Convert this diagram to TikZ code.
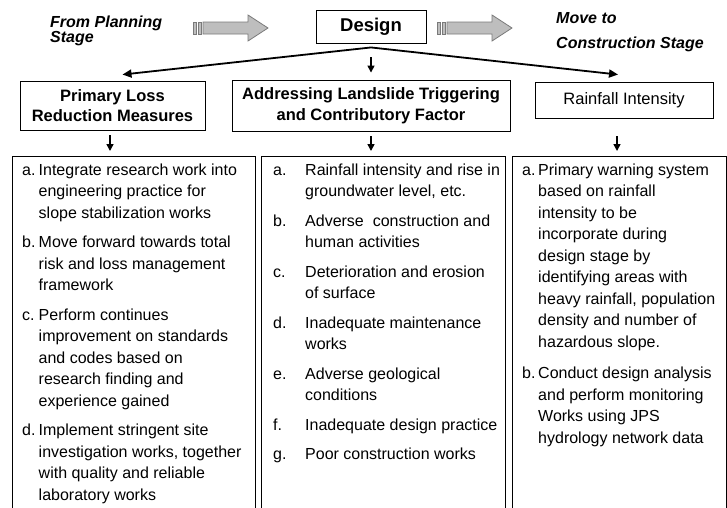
\documentclass[tikz,border=0pt]{standalone}
\usepackage{fontspec}
\setmainfont{Liberation Sans}
\usetikzlibrary{arrows.meta}
\definecolor{blockgray}{HTML}{BEBEBE}
\definecolor{blockedge}{HTML}{7A7A7A}
\newcommand\lbl[2]{\makebox[#1][l]{#2}}
\tikzset{
  box/.style={draw=black, line width=0.9pt, inner sep=0pt, align=center},
  headbox/.style={box, font=\fontsize{16.5}{20.5}\selectfont\bfseries},
  listbox/.style={draw=black, line width=0.9pt, anchor=north west, inner sep=0pt},
  bodytext/.style={anchor=north west, inner sep=0pt, font=\fontsize{16}{21.5}\selectfont},
  toplabel/.style={anchor=base west, inner sep=0pt, font=\fontsize{16}{16}\selectfont\bfseries\itshape},
  bigarr/.style={line width=1.8pt, -{Triangle[length=9pt,width=8pt]}},
  smallarr/.style={line width=1.5pt, -{Triangle[length=7pt,width=7pt]}},
  blockfill/.style={fill=blockgray, draw=blockedge, line width=0.8pt},
  blockarrow/.pic={
    \path[blockfill] (0,-6) rectangle (3,6);
    \path[blockfill] (5,-6) rectangle (8.5,6);
    \path[blockfill] (10,-6) -- (55,-6) -- (55,-13) -- (75,0) -- (55,13) -- (55,6) -- (10,6) -- cycle;
  }
}
\begin{document}
\begin{tikzpicture}[x=1pt,y=-1pt]
\useasboundingbox (0,0) rectangle (727,507);
\clip (0,0) rectangle (727,507);

% top labels
\node[toplabel] (fromA) at (50,27) {From Planning};
\node[toplabel] (fromB) at (50,42) {Stage};
\node[toplabel] (moveA) at (556,23) {Move to};
\node[toplabel] (moveB) at (556,48) {Construction Stage};

% block arrows
\pic at (193,28) {blockarrow};
\pic at (437,28) {blockarrow};

% design
\node[box, minimum width=110pt, minimum height=33pt, font=\fontsize{18.5}{20}\selectfont\bfseries] (design) at (371,26.5) {Design};

% headings
\node[headbox, minimum width=185pt, minimum height=49pt] (pl) at (112.5,105.5) {Primary Loss\\Reduction Measures};
\node[headbox, minimum width=278pt, minimum height=51pt] (ad) at (371,105.5) {Addressing Landslide Triggering\\and Contributory Factor};
\node[headbox, minimum width=178pt, minimum height=36pt, font=\fontsize{16.5}{20.5}\selectfont] (ri) at (624,100) {Rainfall Intensity};

% list boxes
\node[listbox, minimum width=243pt, minimum height=370pt] (bl) at (12,156) {};
\node[listbox, minimum width=244pt, minimum height=370pt] (bm) at (261,156) {};
\node[listbox, minimum width=214pt, minimum height=370pt] (br) at (512,156) {};

% connectors from design
\coordinate (peak) at ([yshift=-4pt]design.south);
\draw[bigarr] (peak) -- ([xshift=10pt,yshift=6pt]pl.north);
\draw[bigarr] (peak) -- ([xshift=-6pt,yshift=7pt]ri.north);
\draw[smallarr] ([yshift=-14pt]design.south) -- ([yshift=7pt]ad.north);

% connectors to lists
\draw[smallarr, shorten >=5pt] ([xshift=-2.5pt,yshift=-5pt]pl.south) -- ([xshift=-2.5pt]pl.south |- bl.north);
\draw[smallarr, shorten >=5pt] ([yshift=-5pt]ad.south) -- (ad.south |- bm.north);
\draw[smallarr, shorten >=5pt] ([xshift=-7pt,yshift=-18pt]ri.south) -- ([xshift=-7pt]ri.south |- br.north);

% list texts
\node[bodytext] (tl) at (22,160) {\begin{tabular}{@{}l@{}l@{}}
\lbl{16.5pt}{a.} & Integrate research work into\\
 & engineering practice for\\
 & slope stabilization works\\[8pt]
\lbl{16.5pt}{b.} & Move forward towards total\\
 & risk and loss management\\
 & framework\\[8pt]
\lbl{16.5pt}{c.} & Perform continues\\
 & improvement on standards\\
 & and codes based on\\
 & research finding and\\
 & experience gained\\[8pt]
\lbl{16.5pt}{d.} & Implement stringent site\\
 & investigation works, together\\
 & with quality and reliable\\
 & laboratory works
\end{tabular}};

\node[bodytext] (tm) at (273,160) {\begin{tabular}{@{}l@{}l@{}}
\lbl{32pt}{a.} & Rainfall intensity and rise in\\
 & groundwater level, etc.\\[8pt]
\lbl{32pt}{b.} & Adverse\ \ construction and\\
 & human activities\\[8pt]
\lbl{32pt}{c.} & Deterioration and erosion\\
 & of surface\\[8pt]
\lbl{32pt}{d.} & Inadequate maintenance\\
 & works\\[8pt]
\lbl{32pt}{e.} & Adverse geological\\
 & conditions\\[8pt]
\lbl{32pt}{f.} & Inadequate design practice\\[8pt]
\lbl{32pt}{g.} & Poor construction works
\end{tabular}};

\node[bodytext] (tr) at (522,160) {\begin{tabular}{@{}l@{}l@{}}
\lbl{16pt}{a.} & Primary warning system\\
 & based on rainfall\\
 & intensity to be\\
 & incorporate during\\
 & design stage by\\
 & identifying areas with\\
 & heavy rainfall, population\\
 & density and number of\\
 & hazardous slope.\\[10pt]
\lbl{16pt}{b.} & Conduct design analysis\\
 & and perform monitoring\\
 & Works using JPS\\
 & hydrology network data
\end{tabular}};
\end{tikzpicture}
\end{document}
